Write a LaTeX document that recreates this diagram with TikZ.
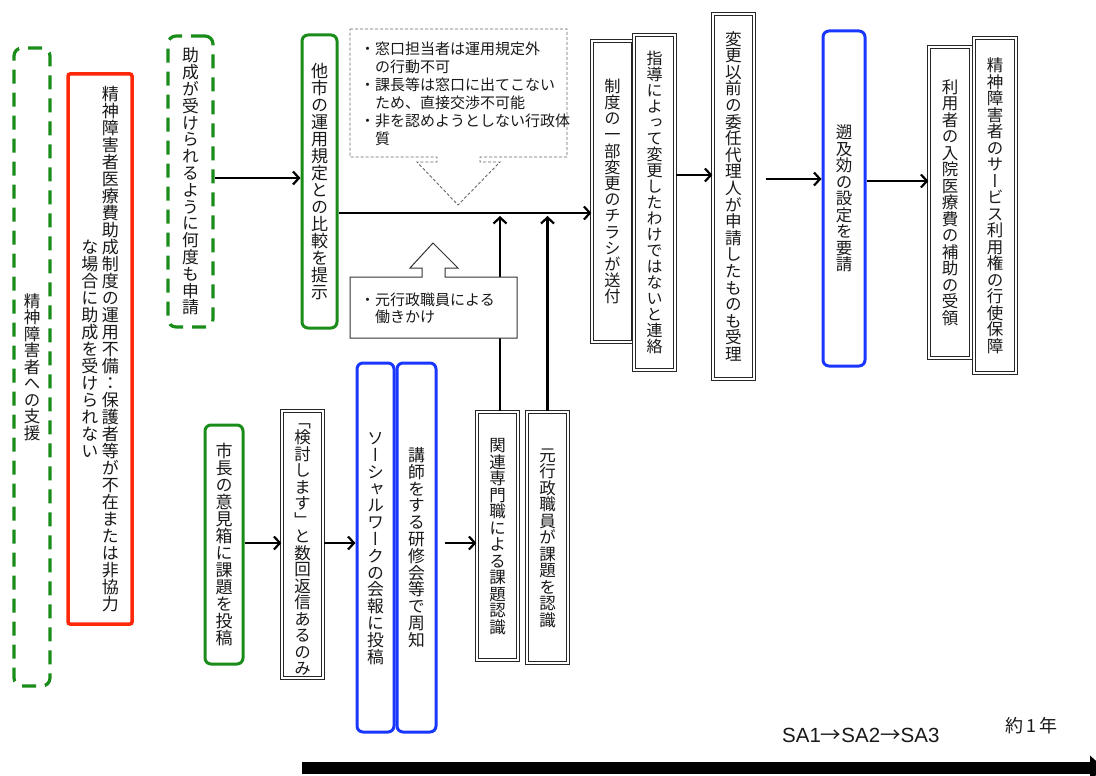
\documentclass[tikz,border=0pt]{standalone}
\usepackage{fontspec}
\usetikzlibrary{arrows.meta}
\newfontfamily\jpfont{Noto Sans CJK JP}
\newfontfamily\tatefont[RawFeature=+vert]{Noto Sans CJK JP}
\newfontfamily\latnfont{Liberation Sans}
% vertical Japanese text: characters stacked on a 1em pitch,
% columns separated by "/" and laid out from right to left
\ExplSyntaxOn
\seq_new:N \l_tate_cols_seq
\dim_new:N \l_tate_em_dim
\cs_new_protected:Npn \tate_column:n #1
  {
    \ensuremath{\vcenter{\offinterlineskip
      \tl_map_inline:nn {#1}
        { \hbox to \l_tate_em_dim { \hss \vrule height .88\l_tate_em_dim depth .12\l_tate_em_dim width 0pt ##1 \hss } }
    }}
  }
\NewDocumentCommand{\tatetext}{O{16.5pt}m}
  {
    \group_begin:
    \tatefont\fontsize{#1}{20}\selectfont
    \dim_set:Nn \l_tate_em_dim {#1}
    \seq_set_split:Nnn \l_tate_cols_seq {/} {#2}
    \seq_reverse:N \l_tate_cols_seq
    \hbox:n { \seq_map_inline:Nn \l_tate_cols_seq { \tate_column:n {##1} \hskip 3.5pt } \unskip }
    \group_end:
  }
\ExplSyntaxOff
\definecolor{grn}{RGB}{25,140,25}
\definecolor{rd}{RGB}{255,40,10}
\definecolor{blu}{RGB}{25,55,255}
\definecolor{txt}{RGB}{25,25,25}
\tikzset{
  box/.style={inner sep=0pt, text=txt, fill=white},
  gbox/.style={box, draw=grn, line width=3pt, rounded corners=6pt},
  gdash/.style={box, draw=grn, line width=3.2pt, rounded corners=8pt, dash pattern=on 14pt off 9pt},
  rbox/.style={box, draw=rd, line width=3.5pt, rounded corners=2pt},
  bbox/.style={box, draw=blu, line width=3pt, rounded corners=6pt},
  dbox/.style={box, draw=black!85, double=white, double distance=2.2pt, line width=1.1pt},
  arr/.style={line width=2.2pt, -{Straight Barb[length=6pt,width=13pt]}},
  callout/.style={draw=black!60, line width=0.9pt, dash pattern=on 3pt off 2pt, fill=white},
  callsolid/.style={draw=black!80, line width=1pt, fill=white},
  calltext/.style={inner sep=0pt, text=txt, font=\jpfont\fontsize{15}{17.6}\selectfont},
}
\begin{document}
\begin{tikzpicture}[x=1pt,y=-1pt]
\useasboundingbox (0,0) rectangle (1096,776);

% left column
\node[gdash, minimum width=36pt, minimum height=638pt] (A) at (32,367) {\tatetext{精神障害者への支援}};
\node[rbox, minimum width=64pt, minimum height=550pt] (B) at (100,349)
  {\tatetext[17pt]{精神障害者医療費助成制度の運用不備{\jpfont ：}保護者等が不在または非協力/な場合に助成を受けられない}};
\node[gdash, minimum width=45pt, minimum height=291pt] (C) at (190.5,181.5) {\tatetext[16.8pt]{助成が受けられるように何度も申請}};
\node[gbox, minimum width=35pt, minimum height=293pt] (D) at (319.5,181.5) {\tatetext[17pt]{他市の運用規定との比較を提示}};

% upper right chain
\node[dbox, minimum width=41pt, minimum height=301pt] (E) at (612.5,191.5) {\tatetext[16.2pt]{制度の一部変更のチラシが送付}};
\node[dbox, minimum width=41pt, minimum height=335pt] (F) at (654.5,202.5) {\tatetext[16pt]{指導によって変更したわけではないと連絡}};
\node[dbox, minimum width=41pt, minimum height=365pt] (G) at (733.5,196.5) {\tatetext[16.6pt]{変更以前の委任代理人が申請したものも受理}};
\node[bbox, minimum width=42pt, minimum height=335pt] (H) at (844,198.5) {\tatetext{遡及効の設定を要請}};
\node[dbox, minimum width=42pt, minimum height=311pt] (I) at (950,202.5) {\tatetext{利用者の入院医療費の補助の受領}};
\node[dbox, minimum width=42pt, minimum height=335pt] (J) at (995,205.5) {\tatetext{精神障害者のサービス利用権の行使保障}};

% lower chain
\node[gbox, minimum width=38pt, minimum height=239pt] (K) at (224,544.5) {\tatetext[17pt]{市長の意見箱に課題を投稿}};
\node[dbox, minimum width=41pt, minimum height=267pt] (L) at (302.5,544.5) {\tatetext{「検討します」と数回返信あるのみ}};
\node[bbox, minimum width=37pt, minimum height=369pt] (M) at (375.5,547.5) {\tatetext[16.8pt]{ソーシャルワークの会報に投稿}};
\node[bbox, minimum width=39pt, minimum height=369pt] (N) at (416.5,547.5) {\tatetext[16.8pt]{講師をする研修会等で周知}};
\node[dbox, minimum width=41pt, minimum height=248pt] (O) at (497.5,536) {\tatetext{関連専門職による課題認識}};
\node[dbox, minimum width=41pt, minimum height=251pt] (P) at (547.5,537.5) {\tatetext{元行政職員が課題を認識}};

% connector levels
\coordinate (yCD) at (0,178);
\coordinate (yMain) at (0,213);
\coordinate (yFG) at (0,175);
\coordinate (yGH) at (0,179);
\coordinate (yHI) at (0,181);
\coordinate (yLow) at (0,543);
\coordinate (yJoin) at (0,216);

\draw[arr] (C.east |- yCD) -- (D.west |- yCD);
\draw[arr] (D.east |- yMain) -- (E.west |- yMain);
\draw[arr] (F.east |- yFG) -- (G.west |- yFG);
\draw[arr, shorten <=11pt] (G.east |- yGH) -- (H.west |- yGH);
\draw[arr] (H.east |- yHI) -- (I.west |- yHI);
\draw[arr] (K.east |- yLow) -- (L.west |- yLow);
\draw[arr] (L.east |- yLow) -- (M.west |- yLow);
\draw[arr, shorten <=7pt] (N.east |- yLow) -- (O.west |- yLow);
\coordinate (oTop) at ([xshift=2.5pt]O.north);
\draw[arr] (oTop) -- (oTop |- yJoin);
\draw[arr] (P.north) -- (P.north |- yJoin);

% callout with the obstacles
\draw[callout] (350,29) -- (567,29) -- (567,157) -- (480,157) -- (480,162) -- (500,162)
  -- (458,205) -- (417,162) -- (437,162) -- (437,157) -- (350,157) -- cycle;
\node[calltext, anchor=base west] (obst) at (360,55) {\begin{tabular}[t]{@{}l@{}l@{}}
・&窓口担当者は運用規定外\\ &の行動不可\\
・&課長等は窓口に出てこない\\ &ため、直接交渉不可能\\
・&非を認めようとしない行政体\\ &質\end{tabular}};

% callout with the supporting action
\draw[callsolid] (350,277) -- (422,277) -- (422,268) -- (410,268) -- (433,243) -- (458,268)
  -- (445,268) -- (445,277) -- (517,277) -- (517,338) -- (350,338) -- cycle;
\node[calltext, anchor=base west] (act) at (360,305) {\begin{tabular}[t]{@{}l@{}l@{}}
・&元行政職員による\\ &働きかけ\end{tabular}};

% time line
\coordinate (t0) at (302,768);
\coordinate (t1) at (1104,768);
\draw[line width=12pt, -{Triangle[length=14pt,width=24pt]}] (t0) -- (t1);
\node[anchor=base west, inner sep=0pt, text=txt, font=\latnfont\fontsize{20.5}{22}\selectfont] (sa) at (782,742)
  {SA1{\jpfont →}SA2{\jpfont →}SA3};
\node[anchor=base west, inner sep=0pt, text=txt, font=\jpfont\fontsize{18}{20}\selectfont] (yr) at (1005,732) {約\kern3pt 1\kern3pt 年};
\end{tikzpicture}
\end{document}
